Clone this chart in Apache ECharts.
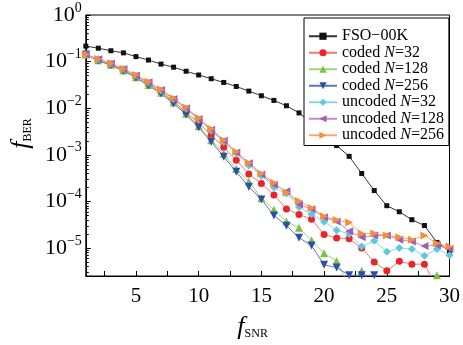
<!DOCTYPE html>
<html>
<head>
<meta charset="utf-8">
<script src="https://cdn.jsdelivr.net/npm/echarts@6/dist/echarts.min.js"></script>
<style>
html,body{margin:0;padding:0;background:#fff;}
#chart{width:463px;height:345px;}
</style>
</head>
<body>
<div id="chart"></div>
<script>
const snr = [1,2,3,4,5,6,7,8,9,10,11,12,13,14,15,16,17,18,19,20,21,22,23,24,25,26,27,28,29,30];

const seriesNames = ['FSO\u221200K','coded N=32','coded N=128','coded N=256','uncoded N=32','uncoded N=128','uncoded N=256'];

const fso00k = [0.215,0.194,0.171,0.154,0.128,0.108,0.0885,0.0759,0.0621,0.0516,0.043,0.0357,0.0293,0.0233,0.0185,0.0147,0.0113,0.00794,0.00479,0.00275,0.00158,0.000927,0.000398,0.000171,8.1e-5,6.0e-5,4.05e-5,3.04e-5,1.32e-5,8.6e-6];
const coded32 = [0.1426,0.1096,0.0871,0.0661,0.0479,0.0331,0.0224,0.0141,0.0082,0.00483,0.00263,0.00145,0.000769,0.000389,0.000243,0.000138,6.92e-5,5.25e-5,4.17e-5,1.95e-5,1.64e-5,1.58e-5,1.0e-5,5.01e-6,3.27e-6,5.18e-6,4.51e-6,4.51e-6,1.4e-6,null];
const coded128 = [0.1426,0.1072,0.0851,0.0646,0.0461,0.0316,0.0214,0.0132,0.00759,0.00417,0.00206,0.00105,0.000494,0.000269,0.000117,6.61e-5,3.72e-5,2.72e-5,1.47e-5,7.76e-6,5.25e-6,1.5e-6,3.27e-6,1.5e-6,null,null,null,1.5e-6,2.6e-6,1.5e-6];
const coded256 = [0.1426,0.1047,0.0832,0.0631,0.0451,0.0306,0.0206,0.0126,0.00735,0.00384,0.00191,0.000912,0.000431,0.000206,0.00011,5.01e-5,3.02e-5,1.67e-5,1.13e-5,4.37e-6,3.8e-6,2.6e-6,2.6e-6,2.6e-6,null,null,null,null,null,null];
const uncoded32 = [0.1426,0.1122,0.0912,0.0692,0.0501,0.0355,0.024,0.0155,0.00977,0.00575,0.00331,0.00191,0.00107,0.000589,0.000355,0.0002,0.000148,7.59e-5,5.3e-5,3.68e-5,2.42e-5,2.0e-5,1.08e-5,1.43e-5,8.32e-6,1.0e-5,9.55e-6,6.82e-6,9.55e-6,7.02e-6];
const uncoded128 = [0.1426,0.1122,0.0912,0.0692,0.0506,0.036,0.0245,0.0158,0.01,0.00589,0.00347,0.002,0.00112,0.000661,0.00038,0.000229,0.000166,8.59e-5,6.82e-5,4.57e-5,3.72e-5,2.29e-5,1.71e-5,1.86e-5,1.86e-5,1.51e-5,1.38e-5,1.1e-5,1.15e-5,9.55e-6];
const uncoded256 = [0.1426,0.1132,0.0925,0.0702,0.0518,0.0368,0.0251,0.0164,0.0103,0.00617,0.00363,0.00206,0.00116,0.000676,0.000398,0.000251,0.000155,0.000102,7.24e-5,4.79e-5,3.98e-5,3.55e-5,2.06e-5,2.06e-5,1.85e-5,1.71e-5,1.51e-5,1.85e-5,1.26e-5,1.08e-5];

const xTickValues = [2.5,5,7.5,10,12.5,15,17.5,20,22.5,25,27.5,30];
const xLabelValues = [5,10,15,20,25,30];
const yLabelValues = [1e-5,1e-4,1e-3,1e-2,1e-1,1];
const yLabelExponents = ['\u22125','\u22124','\u22123','\u22122','\u22121','0'];
const yMinorValues = [3e-6,4e-6,5e-6,6e-6,7e-6,8e-6,9e-6,
  2e-5,3e-5,4e-5,5e-5,6e-5,7e-5,8e-5,9e-5,
  2e-4,3e-4,4e-4,5e-4,6e-4,7e-4,8e-4,9e-4,
  2e-3,3e-3,4e-3,5e-3,6e-3,7e-3,8e-3,9e-3,
  2e-2,3e-2,4e-2,5e-2,6e-2,7e-2,8e-2,9e-2,
  0.2,0.3,0.4,0.5,0.6,0.7,0.8,0.9];

const serif = 'Liberation Serif';
const colors = ['#111111','#e8262a','#7cc143','#2b50a6','#5ec8dc','#a45db4','#f68d3a'];
const lineColors = ['#333333','#f07a6a','#9fd37a','#5a78c0','#8ad8e6','#c08ccb','#f8aa6e'];
const symbols = ['rect','circle','triangle','triangle','diamond','triangle','triangle'];
const rotates = [0,0,0,180,0,90,-90];
const sizes = [5,7,8,8,8,8,8];
const allValues = [fso00k,coded32,coded128,coded256,uncoded32,uncoded128,uncoded256];

const series = allValues.map((vals, k) => ({
  name: seriesNames[k],
  type: 'line',
  data: snr.map((x, i) => [x, vals[i]]),
  symbol: symbols[k],
  symbolRotate: rotates[k],
  symbolSize: sizes[k],
  itemStyle: {color: colors[k]},
  lineStyle: {color: lineColors[k], width: 1},
  yAxisIndex: 0,
  animation: false,
  clip: true
}));

const chart = echarts.init(document.getElementById('chart'), null, {renderer: 'canvas'});
chart.setOption({
  animation: false,
  backgroundColor: '#ffffff',
  grid: {left: 77, right: 9, top: 15, bottom: 50, show: true, borderColor: '#000', borderWidth: 1, backgroundColor: 'transparent'},
  legend: {
    orient: 'vertical',
    left: 304, top: 18,
    padding: [10, 5, 2, 4],
    itemGap: 0,
    itemWidth: 28, itemHeight: 9,
    backgroundColor: '#fff',
    borderColor: '#000', borderWidth: 1, borderRadius: 0,
    data: seriesNames,
    formatter: function (name) {
      return name.replace('N=', '{i|N}=');
    },
    textStyle: {
      fontFamily: serif, fontSize: 16, color: '#000', lineHeight: 16.5,
      rich: {i: {fontFamily: serif, fontSize: 16, fontStyle: 'italic', color: '#000', lineHeight: 16.5}}
    }
  },
  xAxis: {
    type: 'value', min: 1, max: 30,
    splitLine: {show: false},
    axisLine: {lineStyle: {color: '#000', width: 1}},
    axisTick: {inside: true, length: 5, lineStyle: {color: '#000'}, customValues: xTickValues},
    axisLabel: {customValues: xLabelValues, color: '#000', fontFamily: serif, fontSize: 21, margin: 10},
    name: '{f|f}{s|SNR}',
    nameLocation: 'middle',
    nameGap: 38,
    nameTextStyle: {
      padding: [0, 30, 0, 0],
      rich: {
        f: {fontFamily: serif, fontStyle: 'italic', fontSize: 26, color: '#000'},
        s: {fontFamily: serif, fontSize: 12, color: '#000', padding: [14, 0, 0, 0]}
      }
    }
  },
  yAxis: [{
    type: 'log', min: 2.512e-6, max: 1,
    splitLine: {show: false},
    axisLine: {lineStyle: {color: '#000', width: 1}},
    axisTick: {inside: true, length: 5, lineStyle: {color: '#000'}, customValues: yLabelValues},
    axisLabel: {
      customValues: yLabelValues,
      margin: 4,
      formatter: function (v) {
        const idx = yLabelValues.findIndex(t => Math.abs(Math.log10(t) - Math.log10(v)) < 1e-6);
        return '{b|10}{s|' + yLabelExponents[idx] + '}';
      },
      rich: {
        b: {fontFamily: serif, fontSize: 22, color: '#000'},
        s: {fontFamily: serif, fontSize: 14, color: '#000', padding: [0, 0, 14, 0]}
      }
    },
    name: '{f|f}{s|BER}',
    nameLocation: 'middle',
    nameRotate: 90,
    nameGap: 48,
    nameTextStyle: {
      padding: [0, 0, 0, 24],
      rich: {
        f: {fontFamily: serif, fontStyle: 'italic', fontSize: 26, color: '#000'},
        s: {fontFamily: serif, fontSize: 12, color: '#000', padding: [14, 0, 0, 0]}
      }
    }
  }, {
    type: 'log', min: 2.512e-6, max: 1, position: 'left',
    splitLine: {show: false},
    axisLine: {show: false},
    axisLabel: {show: false},
    axisTick: {inside: true, length: 3, lineStyle: {color: '#000'}, customValues: yMinorValues}
  }],
  series: series
});
</script>
</body>
</html>
